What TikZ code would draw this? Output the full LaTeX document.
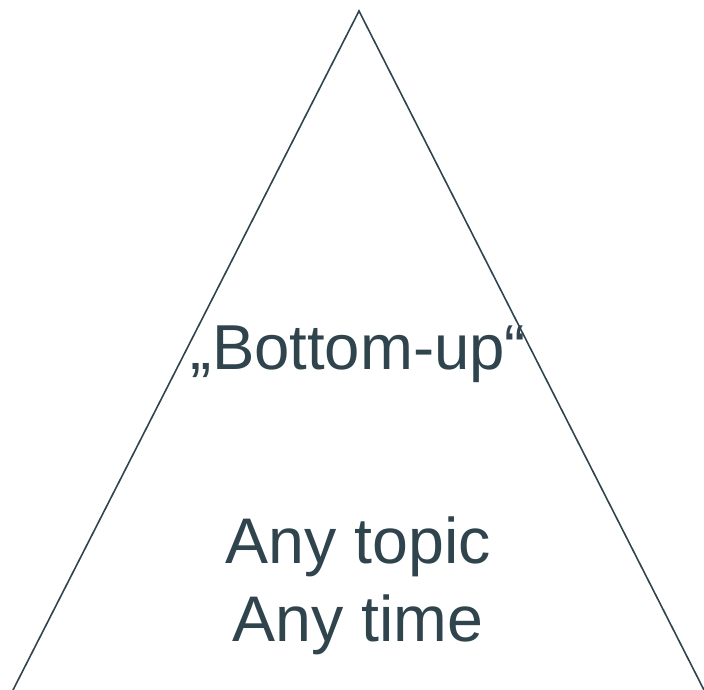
\documentclass[tikz,border=0pt]{standalone}
\usepackage{fontspec}
\setmainfont{Liberation Sans}
\definecolor{slate}{RGB}{47,68,76}
\begin{document}
\begin{tikzpicture}[x=1pt,y=1pt,
  edge/.style={draw=slate,line width=1.6pt,line join=miter},
  label/.style={text=slate,inner sep=0pt,anchor=base}]
\useasboundingbox (0,0) rectangle (704,-690);
\coordinate (apex) at (359,-11);
\coordinate (bl) at (13,-690);
\coordinate (br) at (704,-690);
\draw[edge] (bl) -- (apex) -- (br);
\node[label,font=\fontsize{63.5}{76}\selectfont] (bu) at (358.5,-369) {„Bottom-up“};
\node[label,font=\fontsize{64.5}{77}\selectfont] (topic) at (358,-563) {Any topic};
\node[label,font=\fontsize{64.5}{77}\selectfont] (time) at (358,-641) {Any time};
\end{tikzpicture}
\end{document}
